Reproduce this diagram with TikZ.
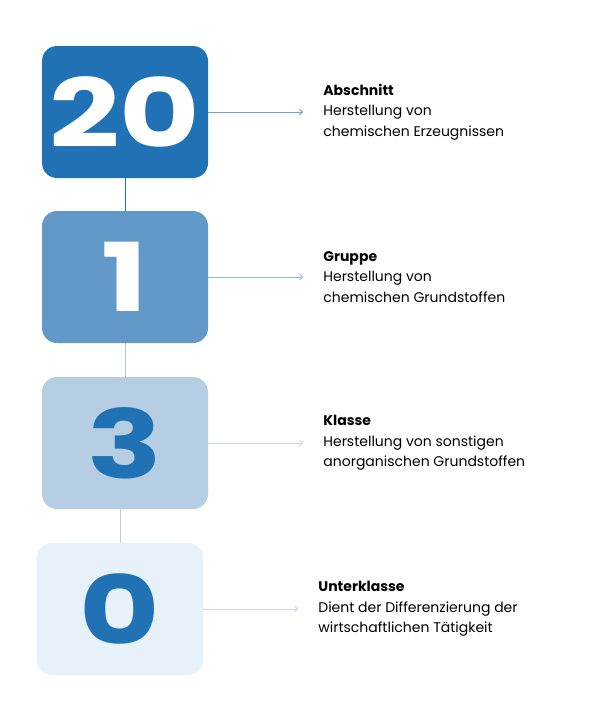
\documentclass[tikz,border=0pt]{standalone}
\usepackage{fontspec}
\usepackage{graphicx}
\setmainfont{Poppins}
\usetikzlibrary{positioning,arrows.meta}
\definecolor{blueA}{HTML}{2171B5}
\definecolor{blueB}{HTML}{6299C8}
\definecolor{blueC}{HTML}{B6CEE3}
\definecolor{blueD}{HTML}{E7F1FA}
\definecolor{lineB}{HTML}{A8C6E1}
\definecolor{pilA}{HTML}{6A9FD0}
\definecolor{pilB}{HTML}{8FB8DD}
\definecolor{pilC}{HTML}{C5DAEE}
\newcommand{\breit}[1]{\scalebox{1.3}[1]{#1}}
\tikzset{
	%Define standard arrow tip
	>={Straight Barb[length=3pt,width=6pt]},
	%Define style for boxes
	ziffer/.style={
		rectangle,
		rounded corners=15pt,
		minimum width=166pt,
		minimum height=132pt,
		inner sep=0pt,
		font=\fontsize{95}{95}\selectfont\bfseries},
	% Define text style
	info/.style={
		anchor=west,
		align=left,
		inner sep=0pt,
		font=\fontsize{14}{20.5}\selectfont},
	% Define arrow style
	pil/.style={
		->,
		line width=1pt,
		shorten >=20pt,}
}

\begin{document}
\begin{tikzpicture}[x=1pt,y=-1pt]
	\fill[white] (0,0) rectangle (596,718);
	\node[ziffer,fill=blueA,text=white] (abschnitt) at (125,112) {\breit{20}};
	\node[ziffer,fill=blueB,text=white] (gruppe) at (125,277) {\breit{1}};
	\node[ziffer,fill=blueC,text=blueA] (klasse) at (125,443) {\breit{3}};
	\node[ziffer,fill=blueD,text=blueA] (unterklasse) at (120,609) {\breit{0}};
	\node[info,right=115pt of abschnitt] (t1) {\textbf{Abschnitt}\\Herstellung von\\chemischen Erzeugnissen};
	\node[info,right=115pt of gruppe] (t2) {\textbf{Gruppe}\\Herstellung von\\chemischen Grundstoffen};
	\node[info,right=115pt of klasse] (t3) {\textbf{Klasse}\\Herstellung von sonstigen\\anorganischen Grundstoffen};
	\node[info,right=115pt of unterklasse] (t4) {\textbf{Unterklasse}\\Dient der Differenzierung der\\wirtschaftlichen Tätigkeit};
	\draw[blueA,line width=1pt] (abschnitt.south) -- (gruppe.north);
	\draw[lineB,line width=1pt] (gruppe.south) -- (klasse.north);
	\draw[blueC,line width=1pt] (klasse.south -| unterklasse) -- (unterklasse.north);
	\draw[pil,pilA] (abschnitt.east) -- (t1.west);
	\draw[pil,pilB] (gruppe.east) -- (t2.west);
	\draw[pil,pilC] (klasse.east) -- (t3.west);
	\draw[pil,pilC] (unterklasse.east) -- (t4.west);
\end{tikzpicture}
\end{document}
